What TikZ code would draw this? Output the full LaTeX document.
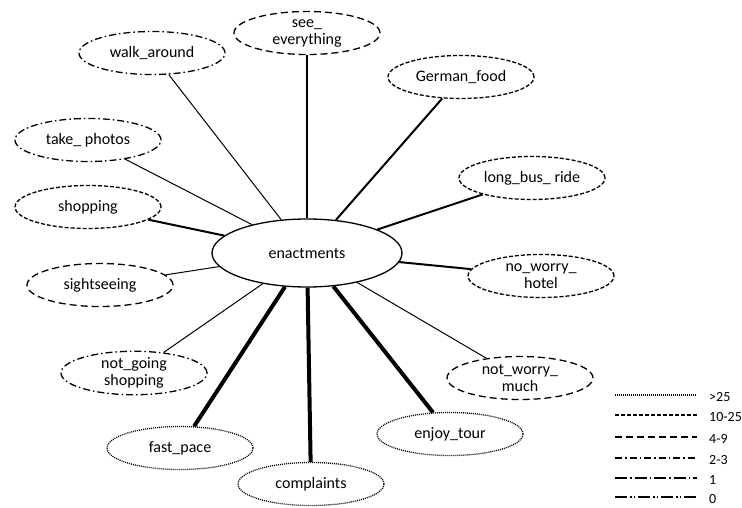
\documentclass[tikz,border=0pt]{standalone}
\usepackage{fontspec}
\setmainfont{Carlito}
\usetikzlibrary{shapes.geometric}
\tikzset{enactnode/.style={ellipse, draw=black, line width=1.3pt, minimum width=190pt, minimum height=68pt, inner sep=0pt, font=\fontsize{16}{18}\selectfont},
    tagnode/.style={ellipse, draw=black, line width=1.3pt, minimum width=146pt, minimum height=43pt, inner sep=0pt, align=center, font=\fontsize{16}{17}\selectfont}}
\begin{document}
\begin{tikzpicture}[
        x=1pt, y=-1pt,
        dotpat/.style={dash pattern=on 1pt off 1pt},
        densedashpat/.style={dash pattern=on 4pt off 2pt},
        dashpat/.style={dash pattern=on 7pt off 4pt},
        dashdotpat/.style={dash pattern=on 7pt off 3pt on 1.5pt off 3pt},
        longdashdotpat/.style={dash pattern=on 12pt off 3pt on 1.5pt off 3pt},
        longdashdotdotpat/.style={dash pattern=on 12pt off 3pt on 1.5pt off 2pt on 1.5pt off 3pt},
        dotnode/.style={tagnode, dotpat},
        densedashnode/.style={tagnode, densedashpat},
        dashnode/.style={tagnode, dashpat},
        dashdotnode/.style={tagnode, dashdotpat},
        thinline/.style={line width=1pt},
        midline/.style={line width=2pt},
        thickline/.style={line width=4pt}
    ]
        \useasboundingbox (0, 0) rectangle (742, 508);
        % Centre
        \node[enactnode] (enact) at (307, 253) {enactments};
        % Outer nodes
        \node[dashdotnode] (walk) at (152, 53) {walk\_around};
        \node[dashnode] (see) at (307, 33) {see\_\\everything};
        \node[densedashnode] (german) at (461, 77) {German\_food};
        \node[densedashnode] (bus) at (532, 178) {long\_bus\_ ride};
        \node[dashdotnode] (photos) at (88, 140) {take\_ photos};
        \node[densedashnode] (shop) at (88, 207) {shopping};
        \node[dashnode] (sight) at (100, 285) {sightseeing};
        \node[densedashnode] (hotel) at (541, 276) {no\_worry\_\\hotel};
        \node[dashnode] (much) at (520, 378) {not\_worry\_\\much};
        \node[dashdotnode] (noshop) at (134, 373) {not\_going\\shopping};
        \node[dotnode] (pace) at (180, 448) {fast\_pace};
        \node[dotnode] (compl) at (311, 484) {complaints};
        \node[dotnode] (tour) at (450, 434) {enjoy\_tour};
        % Connectors
        \foreach \tag in {walk, photos, sight, noshop, much} {
            \draw[thinline] (enact) -- (\tag);
        }
        \draw[line width=1.3pt] (enact) -- (see);
        \foreach \tag in {german, bus, shop, hotel} {
            \draw[midline] (enact) -- (\tag);
        }
        \foreach \tag in {pace, compl, tour} {
            \draw[thickline] (enact) -- (\tag);
        }
        % Legend
        \foreach \y/\pat/\ltext in {
            395/dotpat/{>25},
            415/densedashpat/{10-25},
            437/dashpat/{4-9},
            458/dashdotpat/{2-3},
            478/longdashdotpat/{1},
            497/longdashdotdotpat/{0}} {
            \draw[line width=1.3pt, \pat] (615, \y) -- (697, \y);
            \node[anchor=west, inner sep=1pt, font=\fontsize{14}{16}\selectfont] at (708, \y+2) {\ltext};
        }
    \end{tikzpicture}
\end{document}
